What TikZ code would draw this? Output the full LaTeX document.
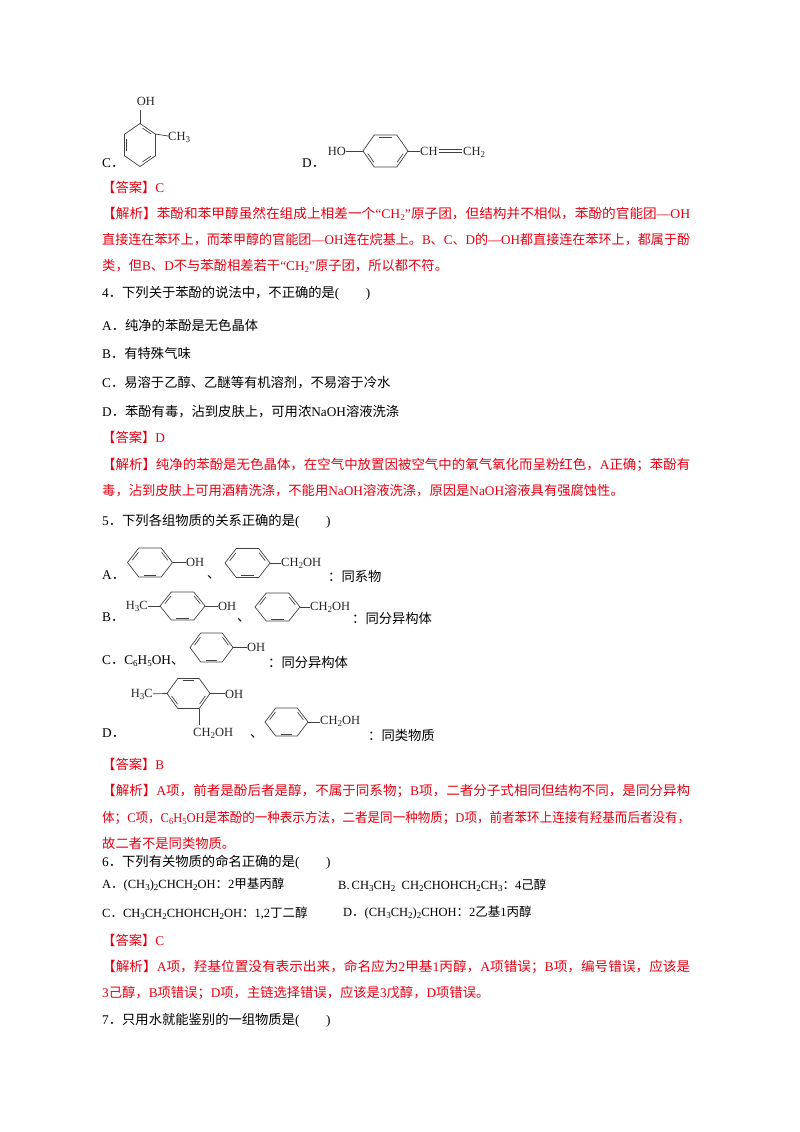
\documentclass[tikz,border=0pt]{standalone}
\usepackage{fontspec}
\usepackage{graphicx}
\usetikzlibrary{calc}
\setmainfont{Liberation Serif}
\newfontfamily\cjk{Noto Sans CJK SC}
\XeTeXinterchartokenstate=1
\newXeTeXintercharclass\cjkcls
\newcount\cc
\cc="4E00 \loop \XeTeXcharclass\cc=\cjkcls \ifnum\cc<"9FFF \advance\cc 1 \repeat
\cc="3000 \loop \XeTeXcharclass\cc=\cjkcls \ifnum\cc<"303F \advance\cc 1 \repeat
\cc="FF00 \loop \XeTeXcharclass\cc=\cjkcls \ifnum\cc<"FFEF \advance\cc 1 \repeat
\XeTeXinterchartoks 0 \cjkcls = {\begingroup\cjk}
\XeTeXinterchartoks 4095 \cjkcls = {\begingroup\cjk}
\XeTeXinterchartoks \cjkcls 0 = {\endgroup}
\XeTeXinterchartoks \cjkcls 4095 = {\endgroup}
\definecolor{ansred}{RGB}{230,0,18}
\newcommand\sbs[1]{\raisebox{-0.35ex}{\fontsize{9}{9}\selectfont #1}}
\newcommand\full[1]{\resizebox{588pt}{\height}{#1}}
\newcommand\ring[6]{%
\begin{scope}[shift={(#1,#2)},xscale=#3,yscale=#4]
 \draw[bond] (#5:1) \foreach \a in {1,...,5}{ -- (#5+60*\a:1)} -- cycle;
 \foreach \a in {#6} \draw[bond] (\a+10:0.8) -- (\a+50:0.8);
\end{scope}}
\begin{document}
\begin{tikzpicture}[x=1pt,y=-1pt,
 bond/.style={line width=0.7pt,draw=black!75},
 txt/.style={anchor=west,inner sep=0pt,font=\fontsize{13.3}{16}\selectfont},
 red/.style={txt,text=ansred},
 opt/.style={txt,font=\fontsize{12.5}{15}\selectfont},
 lab/.style={inner sep=0pt,font=\fontsize{12.5}{12}\selectfont,text=black!85}]
\useasboundingbox (0,0) rectangle (800,1132);
% Q3 C and D
\node[txt] (q3c) at (102,163) {C．};
\ring{140}{145}{17.9}{21.5}{30}{30,150,270}
\coordinate (c3t) at (140,123.5); \coordinate (c3o) at (140,110);
\draw[bond] (c3t) -- (c3o);
\node[lab] (c3oh) at (146,101) {OH};
\coordinate (c3r) at (155.5,134); \coordinate (c3m) at (168,136);
\draw[bond] (c3r) -- (c3m);
\node[lab,anchor=west] (c3ch) at (168,137) {CH\sbs{3}};
\node[txt] (q3d) at (302,163) {D．};
\node[lab,anchor=east] (d3ho) at (346,151) {HO};
\ring{385.5}{151}{22.5}{18.5}{0}{0,120,240}
\coordinate (d3l) at (363,151); \coordinate (d3r) at (408,151);
\draw[bond] (d3ho) -- (d3l); \draw[bond] (d3r) -- (420,151);
\node[lab,anchor=west] (d3ch) at (420,151) {CH};
\node[lab,anchor=west] (d3ch2) at (463,152) {CH\sbs{2}};
\draw[bond] ($(d3ch.east)+(1,-1.5)$) -- ($(d3ch2.west)+(-1,-2.5)$);
\draw[bond] ($(d3ch.east)+(1,1.5)$) -- ($(d3ch2.west)+(-1,0.5)$);
% answers
\node[red] (a3) at (102,187) {【答案】C};
\node[red] (j3a) at (102,214) {\full{【解析】苯酚和苯甲醇虽然在组成上相差一个“CH\sbs{2}”原子团，但结构并不相似，苯酚的官能团—OH}};
\node[red] (j3b) at (102,240) {\full{直接连在苯环上，而苯甲醇的官能团—OH连在烷基上。B、C、D的—OH都直接连在苯环上，都属于酚}};
\node[red] (j3c) at (102,266) {类，但B、D不与苯酚相差若干“CH\sbs{2}”原子团，所以都不符。};
% Q4
\node[txt] (q4) at (102,293) {4．下列关于苯酚的说法中，不正确的是(\hspace{2em})};
\node[txt] (q4a) at (102,325) {A．纯净的苯酚是无色晶体};
\node[txt] (q4b) at (102,353) {B．有特殊气味};
\node[txt] (q4c) at (102,383) {C．易溶于乙醇、乙醚等有机溶剂，不易溶于冷水};
\node[txt] (q4d) at (102,412) {D．苯酚有毒，沾到皮肤上，可用浓NaOH溶液洗涤};
\node[red] (a4) at (102,437) {【答案】D};
\node[red] (j4a) at (102,465) {\full{【解析】纯净的苯酚是无色晶体，在空气中放置因被空气中的氧气氧化而呈粉红色，A正确；苯酚有}};
\node[red] (j4b) at (102,491) {毒，沾到皮肤上可用酒精洗涤，不能用NaOH溶液洗涤，原因是NaOH溶液具有强腐蚀性。};
% Q5
\node[txt] (q5) at (102,521) {5．下列各组物质的关系正确的是(\hspace{2em})};
% A
\node[txt] (q5a) at (102,575) {A．};
\ring{150}{562.5}{22.5}{16.7}{0}{60,180,300}
\draw[bond] (172.5,562.5) -- (186,562.5);
\node[lab,anchor=west] (q5aoh) at (186,562) {OH};
\node[txt] (q5ac) at (207,577) {、};
\ring{247.5}{563}{22.5}{16.7}{0}{60,180,300}
\draw[bond] (270,563) -- (281,563);
\node[lab,anchor=west] (q5ach) at (281,563) {CH\sbs{2}OH};
\node[txt] (q5at) at (328,576) {：同系物};
% B
\node[txt] (q5b) at (102,617) {B．};
\node[lab,anchor=east] (q5bm) at (148,606) {H\sbs{3}C};
\ring{182.5}{606}{22.5}{16.2}{0}{60,180,300}
\draw[bond] (q5bm) -- (160,606); \draw[bond] (205,606) -- (218,606);
\node[lab,anchor=west] (q5boh) at (218,606) {OH};
\node[txt] (q5bc) at (237,620) {、};
\ring{277.5}{607}{22.5}{16.2}{0}{60,180,300}
\draw[bond] (300,607) -- (310,607);
\node[lab,anchor=west] (q5bch) at (310,607) {CH\sbs{2}OH};
\node[txt] (q5bt) at (352,618) {：同分异构体};
% C
\node[txt] (q5c) at (102,661) {C．C\sbs{6}H\sbs{5}OH、};
\ring{211.5}{647.5}{21.5}{16.7}{0}{60,180,300}
\draw[bond] (233,647.5) -- (247,647.5);
\node[lab,anchor=west] (q5coh) at (247,647) {OH};
\node[txt] (q5ct) at (268,662) {：同分异构体};
% D
\node[txt] (q5d) at (102,733) {D．};
\node[lab,anchor=east] (q5dm) at (153,694) {H\sbs{3}C};
\ring{188.5}{693.5}{21.5}{17.3}{0}{0,120,240}
\draw[bond] (q5dm) -- (167,693.5); \draw[bond] (210,693.5) -- (225,693.5);
\node[lab,anchor=west] (q5doh) at (225,694) {OH};
\draw[bond] (199.25,708.5) -- (199.25,725);
\node[lab,anchor=west] (q5dch) at (193,733) {CH\sbs{2}OH};
\node[txt] (q5dc) at (250,736) {、};
\ring{286.5}{722}{21.5}{16.2}{0}{60,180,300}
\draw[bond] (308,722) -- (320,722);
\node[lab,anchor=west] (q5dch2) at (320,721) {CH\sbs{2}OH};
\node[txt] (q5dt) at (368,735) {：同类物质};
\node[red] (a5) at (102,764) {【答案】B};
\node[red] (j5a) at (102,791) {\full{【解析】A项，前者是酚后者是醇，不属于同系物；B项，二者分子式相同但结构不同，是同分异构}};
\node[red] (j5b) at (102,818) {\full{体；C项，C\sbs{6}H\sbs{5}OH是苯酚的一种表示方法，二者是同一种物质；D项，前者苯环上连接有羟基而后者没有，}};
\node[red] (j5c) at (102,843) {故二者不是同类物质。};
% Q6
\node[txt] (q6) at (102,862) {6．下列有关物质的命名正确的是(\hspace{2em})};
\node[opt] (q6a) at (102,885) {A．(CH\sbs{3})\sbs{2}CHCH\sbs{2}OH：2甲基丙醇};
\node[opt] (q6b) at (338,885) {B.\,CH\sbs{3}CH\sbs{2}\ \ CH\sbs{2}CHOHCH\sbs{2}CH\sbs{3}：4己醇};
\node[opt] (q6c) at (102,913) {C．CH\sbs{3}CH\sbs{2}CHOHCH\sbs{2}OH：1,2丁二醇};
\node[opt] (q6d) at (343,913) {D．(CH\sbs{3}CH\sbs{2})\sbs{2}CHOH：2乙基1丙醇};
\node[red] (a6) at (102,940) {【答案】C};
\node[red] (j6a) at (102,967) {\full{【解析】A项，羟基位置没有表示出来，命名应为2甲基1丙醇，A项错误；B项，编号错误，应该是}};
\node[red] (j6b) at (102,993) {3己醇，B项错误；D项，主链选择错误，应该是3戊醇，D项错误。};
\node[txt] (q7) at (102,1020) {7．只用水就能鉴别的一组物质是(\hspace{2em})};
\end{tikzpicture}
\end{document}
